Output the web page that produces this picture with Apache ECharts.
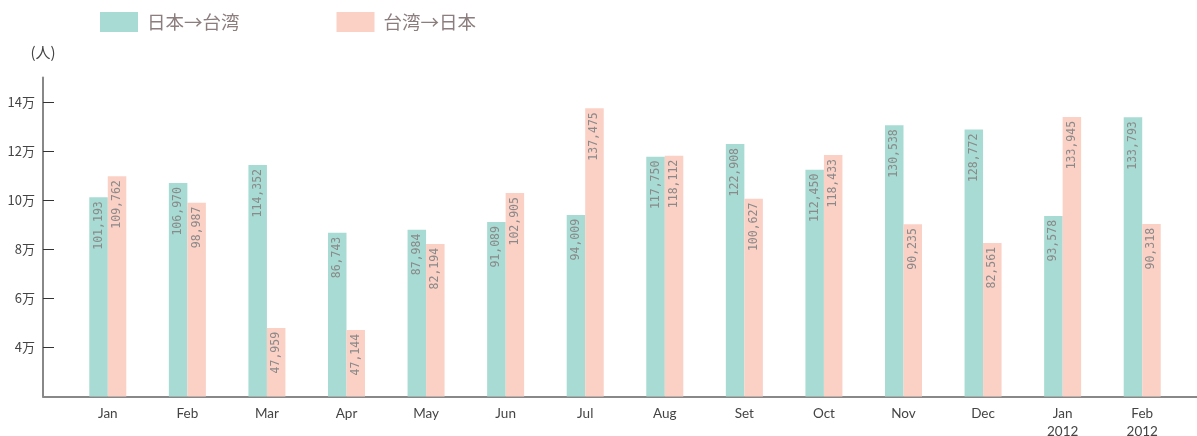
<!DOCTYPE html>
<html>
<head>
<meta charset="utf-8">
<script src="https://cdn.jsdelivr.net/npm/echarts@6/dist/echarts.min.js"></script>
<style>
html,body{margin:0;padding:0;background:#fff;}
#chart{width:1197px;height:436px;}
</style>
</head>
<body>
<div id="chart"></div>
<script>
const categories = ['Jan','Feb','Mar','Apr','May','Jun','Jul','Aug','Set','Oct','Nov','Dec','Jan\n2012','Feb\n2012'];
const jpToTw = [101193,106970,114352,86743,87984,91089,94009,117750,122908,112450,130538,128772,93578,133793];
const twToJp = [109762,98987,47959,47144,82194,102905,137475,118112,100627,118433,90235,82561,133945,90318];
const yTicks = [40000,60000,80000,100000,120000,140000];
const seriesNames = ['日本→台湾','台湾→日本'];

const chart = echarts.init(document.getElementById('chart'));
const latin = 'Lato, "Noto Sans", sans-serif';
const cjk = '"Noto Sans CJK JP", "Noto Sans", sans-serif';
const barLabel = {
  show: true,
  position: 'insideTop',
  rotate: 90,
  align: 'right',
  verticalAlign: 'middle',
  distance: 4,
  fontFamily: '"DejaVu Sans Mono", monospace',
  fontSize: 11.5,
  color: '#8a8a8a',
  formatter: p => p.value.toLocaleString('en-US')
};
chart.setOption({
  animation: false,
  legend: {
    left: 100, top: 12, padding: 0,
    itemWidth: 38, itemHeight: 20, itemGap: 97,
    icon: 'rect',
    data: seriesNames,
    textStyle: {fontFamily: cjk, fontSize: 18.5, color: '#8c7e7e', padding: [0,0,0,4]}
  },
  grid: [
    {left: 43, right: 0, top: 77.5, bottom: 39.5, outerBoundsMode: 'none', containLabel: false},
    {left: 68, right: 15, top: 77.5, bottom: 39.5, outerBoundsMode: 'none', containLabel: false}
  ],
  xAxis: [
    {gridIndex: 0, type: 'value', min: 0, max: 1,
     axisLine: {show: true, onZero: false, lineStyle: {color: '#888', width: 2}},
     axisTick: {show: false}, axisLabel: {show: false}, splitLine: {show: false}},
    {gridIndex: 1, type: 'category', data: categories,
     axisLine: {show: false}, axisTick: {show: false},
     axisLabel: {fontFamily: latin, fontSize: 13.5, color: '#444', margin: 8, lineHeight: 18}}
  ],
  yAxis: [
    {gridIndex: 0, type: 'value', min: 20000, max: 150000, interval: 20000,
     name: '(人)', nameLocation: 'end', nameGap: 18,
     nameTextStyle: {fontFamily: cjk, fontSize: 15, color: '#444'},
     axisLine: {show: true, onZero: false, lineStyle: {color: '#888', width: 2}},
     axisTick: {show: true, inside: true, length: 11, customValues: yTicks, lineStyle: {color: '#333', width: 1}},
     axisLabel: {customValues: yTicks, margin: 8, fontFamily: cjk, fontSize: 13, color: '#444',
       formatter: v => (v / 10000) + '万'},
     splitLine: {show: false}},
    {gridIndex: 1, type: 'value', min: 20000, max: 150000, show: false}
  ],
  series: [
    {name: seriesNames[0], type: 'bar', xAxisIndex: 1, yAxisIndex: 1, data: jpToTw,
     barWidth: 18.5, barGap: '0%', itemStyle: {color: '#a7dbd3'}, label: barLabel},
    {name: seriesNames[1], type: 'bar', xAxisIndex: 1, yAxisIndex: 1, data: twToJp,
     barWidth: 18.5, barGap: '0%', itemStyle: {color: '#fbd0c5'}, label: barLabel}
  ]
});
</script>
</body>
</html>
